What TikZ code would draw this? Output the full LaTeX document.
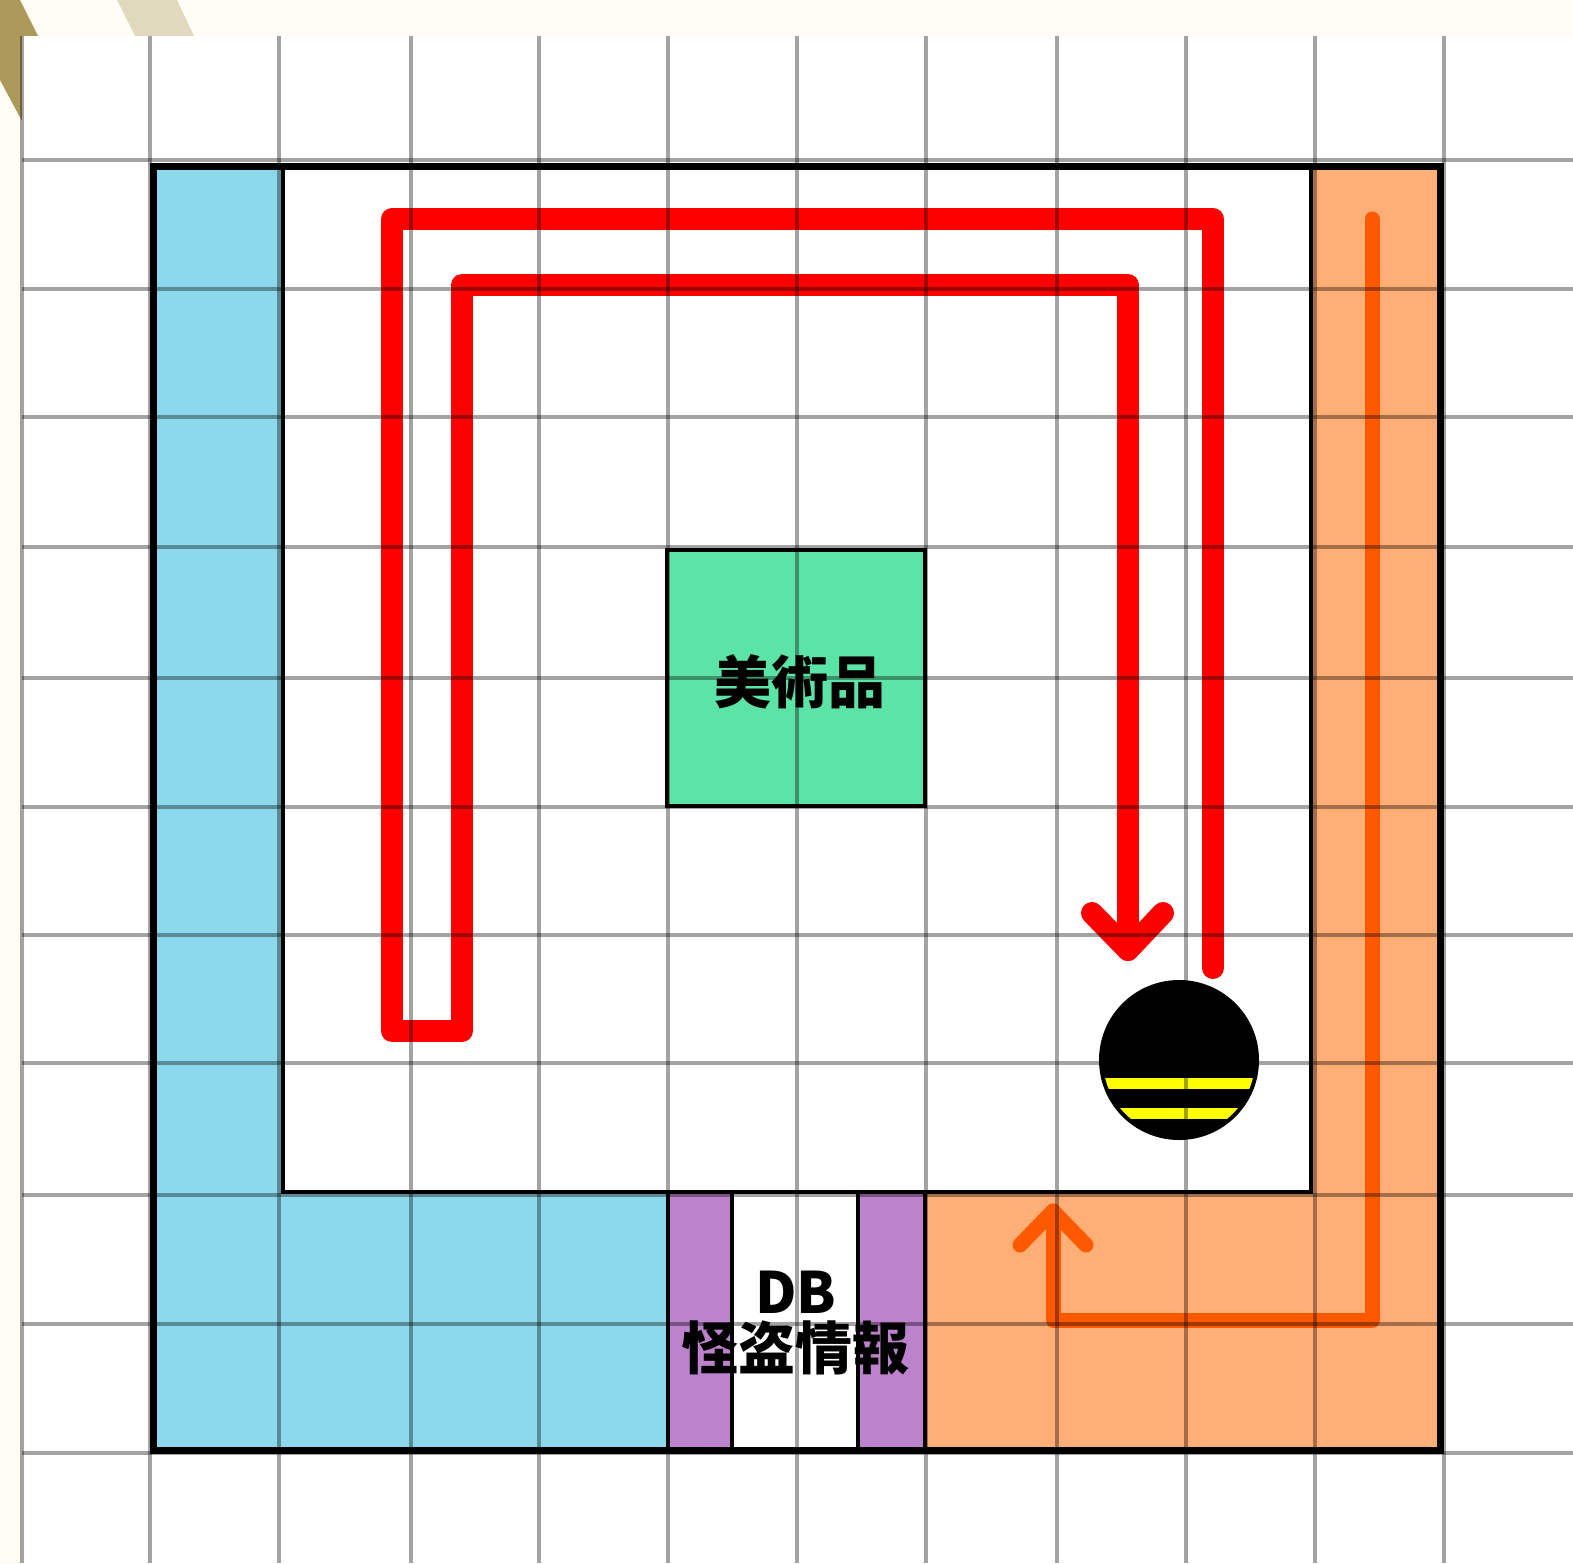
\documentclass[tikz,border=0pt]{standalone}
\usepackage{fontspec}
\usepackage{xcolor}
\newfontfamily\jpfont{Noto Sans CJK JP}

\definecolor{creamback}{HTML}{FFFDF5}
\definecolor{golddark}{HTML}{AD9A5A}
\definecolor{goldlight}{HTML}{E0D9BE}
\definecolor{zoneblue}{HTML}{8CD8EC}
\definecolor{zoneorange}{HTML}{FFAE75}
\definecolor{zonepurple}{HTML}{BC82CC}
\definecolor{zonegreen}{HTML}{5CE4A6}
\definecolor{routered}{HTML}{FF0000}
\definecolor{routeorange}{HTML}{FF5900}
\definecolor{stripeyellow}{HTML}{FFFF00}

\tikzset{
  gridline/.style={black, opacity=0.36, line width=1.6pt},
  frameline/.style={black, line width=3.5pt},
  wallline/.style={black, line width=2pt},
  redroute/.style={routered, line width=11pt, line join=round, line cap=round},
  orangeroute/.style={routeorange, line width=7.5pt, line join=round, line cap=round},
  labeltext/.style={font=\jpfont\bfseries\fontsize{28.5}{30}\selectfont, inner sep=0pt}
}

\begin{document}
\begin{tikzpicture}[x=0.5pt, y=-0.5pt]
  \useasboundingbox (0,0) rectangle (1573,1563);

  % page behind the sheet
  \fill[creamback] (0,0) rectangle (1573,1563);
  \fill[golddark] (0,0) -- (20,0) -- (38,36) -- (22,36) -- (22,121) -- (0,80) -- cycle;
  \fill[goldlight] (117,0) -- (177,0) -- (194,36) -- (135,36) -- cycle;
  \fill[white] (22,36) rectangle (1573,1563);

  % zones
  \fill[zoneblue] (153,166) -- (283,166) -- (283,1192) -- (668,1192) -- (668,1450) -- (153,1450) -- cycle;
  \fill[zoneorange] (1311,166) -- (1440,166) -- (1440,1450) -- (925,1450) -- (925,1192) -- (1311,1192) -- cycle;
  \fill[zonepurple] (668,1192) rectangle (732,1450);
  \fill[zonepurple] (858,1192) rectangle (925,1450);
  \fill[zonegreen] (667,550) rectangle (925,806);

  \draw[wallline] (283,166) rectangle (1311,1192);
  \draw[wallline] (668,1192) -- (668,1450);
  \draw[wallline] (732,1192) -- (732,1450);
  \draw[wallline] (858,1192) -- (858,1450);
  \draw[wallline] (925,1192) -- (925,1450);
  \draw[wallline] (667,550) rectangle (925,806);
  \draw[frameline] (153.5,166) rectangle (1440.5,1450);

  % routes
  \draw[redroute] (1213,968) -- (1213,219) -- (392,219) -- (392,1031) -- (462,1031)
    -- (462,285) -- (1128,285) -- (1128,950);
  \draw[redroute] (1092,913) -- (1128,950) -- (1163,913);
  \draw[orangeroute] (1372,219) -- (1372,1320) -- (1053,1320) -- (1053,1211);
  \draw[orangeroute] (1020,1245) -- (1053,1211) -- (1086,1245);

  % guard
  \fill[black] (1179,1060) circle (80);
  \begin{scope}
    \clip (1179,1060) circle (76);
    \fill[stripeyellow] (1090,1078) rectangle (1270,1089);
    \fill[stripeyellow] (1090,1108) rectangle (1270,1119);
  \end{scope}

  % grid goes over everything
  \foreach \gx in {22,150,279,411,539,668,797,926,1057,1186,1315,1444}
    \draw[gridline] (\gx,36) -- (\gx,1563);
  \foreach \gy in {160,289,417,547,678,807,935,1063,1195,1324,1453}
    \draw[gridline] (22,\gy) -- (1573,\gy);

  \node[labeltext] (artwork) at (800,682) {美術品};
  \node[labeltext] (dbname) at (796,1292) {DB};
  \node[labeltext] (dbinfo) at (795,1348) {怪盗情報};
\end{tikzpicture}
\end{document}
